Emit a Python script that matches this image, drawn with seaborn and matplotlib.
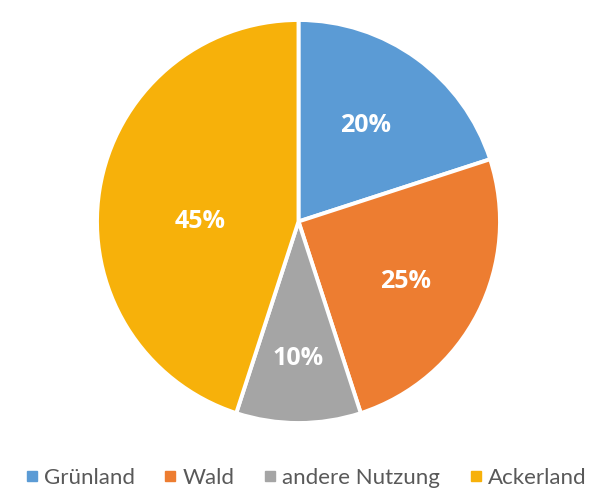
import numpy as np
import matplotlib
matplotlib.use("Agg")
import matplotlib.pyplot as plt
import seaborn as sns
from matplotlib.lines import Line2D

categories = ["Grünland", "Wald", "andere Nutzung", "Ackerland"]
values = [20, 25, 10, 45]
labels = ["20%", "25%", "10%", "45%"]
colors = ["#5B9BD5", "#ED7D31", "#A5A5A5", "#F7B10A"]
label_dist = [0.58, 0.61, 0.68, 0.49]
label_turn = [1, -2, 0, 9]

sns.set_theme(style="white")
plt.rcParams['font.family'] = ['Open Sans', 'DejaVu Sans']

fig = plt.figure(figsize=(6.07, 5.04), dpi=100)
ax = fig.add_axes([97/607, 1-423/504, 403/607, 403/504])
wedges, _ = ax.pie(values, colors=colors, startangle=90, counterclock=False,
                   radius=1, wedgeprops=dict(edgecolor="white", linewidth=2.8))
for w, lab, d, t in zip(wedges, labels, label_dist, label_turn):
    ang = np.deg2rad((w.theta1 + w.theta2) / 2 + t)
    ax.text(d*np.cos(ang), d*np.sin(ang), lab, ha="center", va="center",
            color="white", fontsize=18, fontweight="bold")
ax.set_xlim(-1, 1)
ax.set_ylim(-1, 1)
ax.set_aspect("equal")
ax.axis("off")

handles = [Line2D([0], [0], marker="s", linestyle="", markersize=7,
                  markerfacecolor=c, markeredgecolor=c) for c in colors]
fig.legend(handles, categories, loc="center", bbox_to_anchor=(0.5, 1-478/504),
           ncol=4, frameon=False, handletextpad=0.05,
           columnspacing=1.1, handlelength=1.0, labelcolor="#595959",
           prop={"family": ["Lato", "DejaVu Sans"], "size": 16})
fig.savefig("out.png", dpi=100)
